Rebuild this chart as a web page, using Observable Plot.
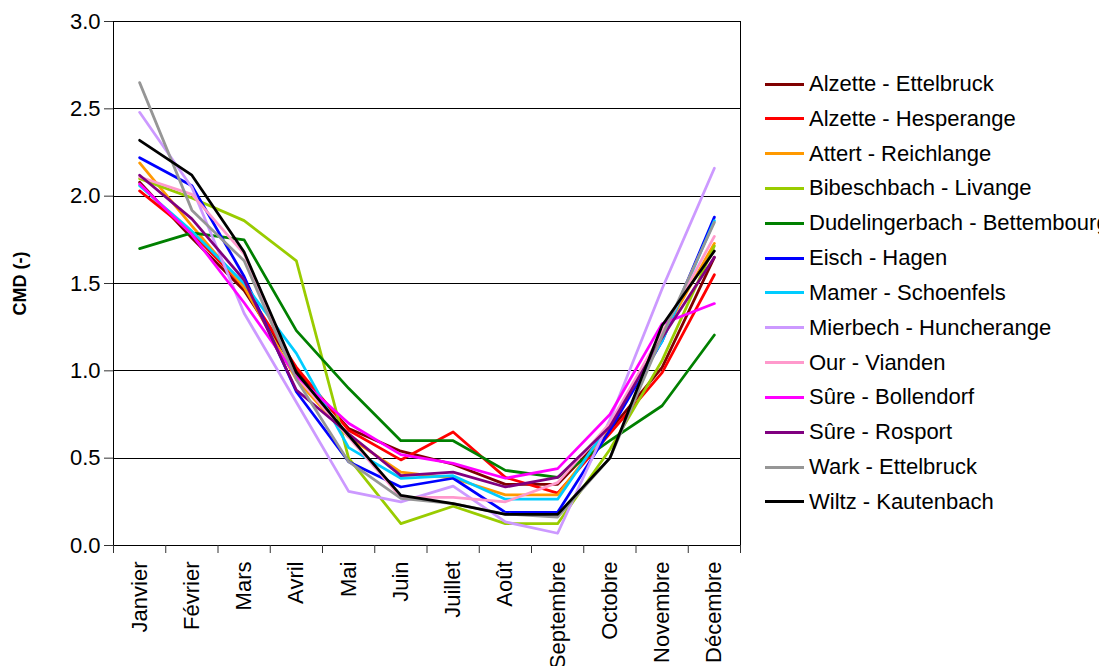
<!DOCTYPE html>
<html>
<head>
<meta charset="utf-8">
<script src="https://cdn.jsdelivr.net/npm/d3@7"></script>
<script src="https://cdn.jsdelivr.net/npm/@observablehq/plot@0.6"></script>
<style>
  body { margin: 0; background: #fff; }
  #wrap { position: relative; width: 1099px; height: 666px; overflow: hidden; font-family: "Liberation Sans", Arial, sans-serif; }
  #legend { position: absolute; left: 765px; top: 66.6px; white-space: nowrap; }
  .row { height: 34.83px; display: flex; align-items: center; font-size: 22px; color: #000; }
  .swatch { width: 39px; height: 3px; margin-right: 5px; flex: none; }
  g[aria-label="y-axis label"] text { font-weight: bold; font-size: 18px; }
  g[aria-label="rule"] line, g[aria-label="frame"] rect { shape-rendering: crispEdges; }
</style>
</head>
<body>
<div id="wrap"><div id="chart"></div><div id="legend"></div></div>
<script>
const months = ["Janvier", "Février", "Mars", "Avril", "Mai", "Juin", "Juillet", "Août", "Septembre", "Octobre", "Novembre", "Décembre"];
const series = ["Alzette - Ettelbruck", "Alzette - Hesperange", "Attert - Reichlange", "Bibeschbach - Livange", "Dudelingerbach - Bettembourg", "Eisch - Hagen", "Mamer - Schoenfels", "Mierbech - Huncherange", "Our - Vianden", "Sûre - Bollendorf", "Sûre - Rosport", "Wark - Ettelbruck", "Wiltz - Kautenbach"];
const colors = ["#800000", "#FF0000", "#FF9900", "#99CC00", "#008000", "#0000FF", "#00CCFF", "#CC99FF", "#FF99CC", "#FF00FF", "#800080", "#969696", "#000000"];
const yTicks = [0, 0.5, 1.0, 1.5, 2.0, 2.5, 3.0];

const alzetteEttelbruck   = [2.08, 1.76, 1.46, 1.00, 0.67, 0.54, 0.465, 0.35, 0.35, 0.66, 1.02, 1.65];
const alzetteHesperange   = [2.03, 1.79, 1.48, 1.02, 0.66, 0.49, 0.65, 0.39, 0.30, 0.64, 0.99, 1.55];
const attertReichlange    = [2.19, 1.83, 1.48, 0.95, 0.62, 0.42, 0.385, 0.29, 0.29, 0.68, 1.20, 1.73];
const bibeschbachLivange  = [2.10, 1.99, 1.86, 1.63, 0.50, 0.125, 0.225, 0.125, 0.125, 0.55, 1.06, 1.715];
const dudelingerbach      = [1.70, 1.79, 1.75, 1.23, 0.90, 0.60, 0.60, 0.43, 0.39, 0.60, 0.80, 1.205];
const eischHagen          = [2.22, 2.06, 1.54, 0.88, 0.48, 0.335, 0.385, 0.19, 0.19, 0.66, 1.17, 1.88];
const mamerSchoenfels     = [2.06, 1.80, 1.50, 1.10, 0.56, 0.385, 0.40, 0.265, 0.265, 0.70, 1.17, 1.86];
const mierbechHuncherange = [2.48, 2.05, 1.33, 0.82, 0.31, 0.25, 0.34, 0.135, 0.07, 0.72, 1.47, 2.16];
const ourVianden          = [2.11, 2.01, 1.67, 0.97, 0.62, 0.275, 0.275, 0.25, 0.36, 0.70, 1.22, 1.77];
const sureBollendorf      = [2.07, 1.78, 1.39, 0.97, 0.70, 0.52, 0.47, 0.385, 0.44, 0.75, 1.27, 1.385];
const sureRosport         = [2.12, 1.87, 1.52, 0.89, 0.64, 0.40, 0.42, 0.335, 0.39, 0.68, 1.19, 1.65];
const warkEttelbruck      = [2.65, 1.92, 1.63, 0.95, 0.48, 0.27, 0.24, 0.18, 0.163, 0.50, 1.20, 1.85];
const wiltzKautenbach     = [2.32, 2.12, 1.68, 0.99, 0.63, 0.287, 0.24, 0.178, 0.178, 0.50, 1.26, 1.686];

const valueLists = [alzetteEttelbruck, alzetteHesperange, attertReichlange, bibeschbachLivange, dudelingerbach, eischHagen, mamerSchoenfels, mierbechHuncherange, ourVianden, sureBollendorf, sureRosport, warkEttelbruck, wiltzKautenbach];

const data = series.flatMap((s, k) => valueLists[k].map((v, i) => ({series: s, month: months[i], x: i + 0.5, value: v})));
const bounds = d3.range(months.length + 1);
const centers = months.map((m, i) => i + 0.5);

const chart = Plot.plot({
  width: 1099,
  height: 666,
  marginLeft: 113,
  marginRight: 359,
  marginTop: 21,
  marginBottom: 121,
  style: {fontFamily: "Liberation Sans, Arial, sans-serif", fontSize: "22px", color: "#000", background: "#fff"},
  x: {domain: [0, 12]},
  y: {domain: [0, 3]},
  color: {domain: series, range: colors},
  marks: [
    Plot.ruleY(yTicks, {stroke: "#000", strokeWidth: 1}),
    Plot.frame({stroke: "#000", strokeWidth: 1}),
    Plot.axisY(yTicks, {tickSize: 9, tickPadding: 4, tickFormat: d3.format(".1f"), stroke: "#333", label: "CMD (-)", labelAnchor: "center", labelArrow: "none", labelOffset: 100}),
    Plot.axisX(bounds, {tickSize: 8, tickFormat: () => "", stroke: "#333", label: null}),
    Plot.axisX(centers, {tickSize: 0, tickPadding: 16, tickRotate: -90, tickFormat: d => months[Math.floor(d)], label: null}),
    Plot.line(data, {x: "x", y: "value", z: "series", stroke: "series", strokeWidth: 2.75, strokeLinejoin: "round"})
  ]
});
document.getElementById("chart").appendChild(chart);

const legend = document.getElementById("legend");
series.forEach((s, k) => {
  const row = document.createElement("div");
  row.className = "row";
  const sw = document.createElement("span");
  sw.className = "swatch";
  sw.style.background = colors[k];
  const t = document.createElement("span");
  t.textContent = s;
  row.appendChild(sw);
  row.appendChild(t);
  legend.appendChild(row);
});
</script>
</body>
</html>
